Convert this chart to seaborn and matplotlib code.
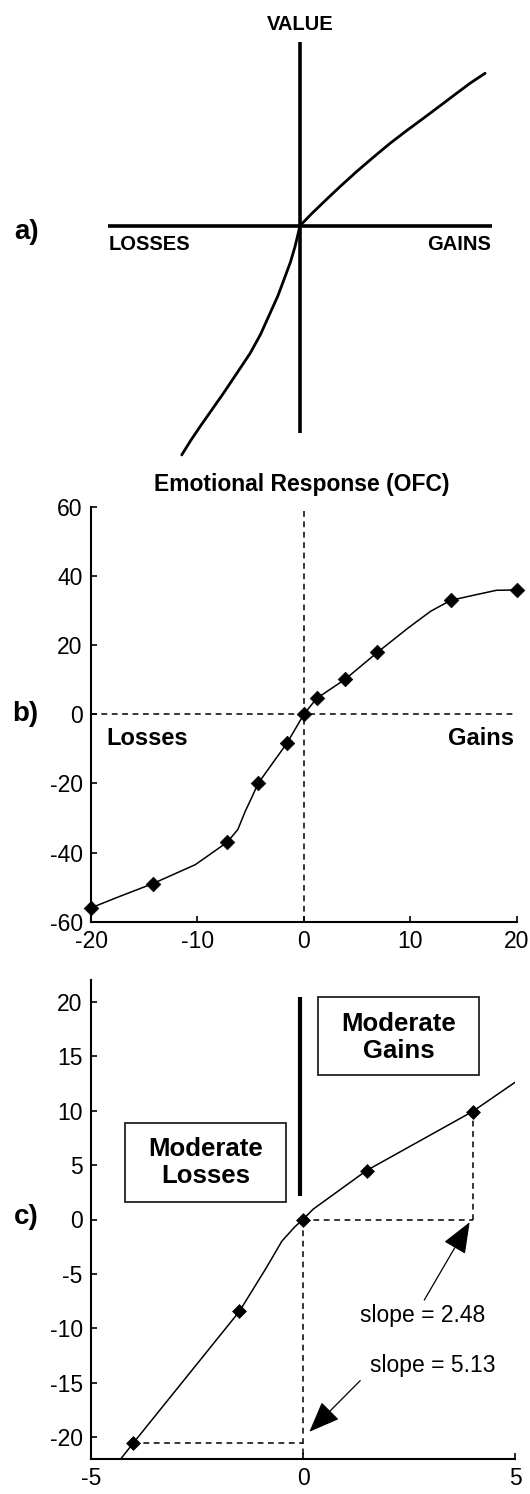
import matplotlib
matplotlib.use("Agg")
import matplotlib.pyplot as plt
from matplotlib.patches import Rectangle
import seaborn as sns

# a) prospect theory value function (sketch units, 1 = half the horizontal axis)
a_x = [-0.616, -0.57, -0.521, -0.46, -0.399, -0.33, -0.260, -0.205, -0.156, -0.115,
       -0.078, -0.05, -0.026, 0.0, 0.06, 0.139, 0.21, 0.295, 0.38, 0.469, 0.555,
       0.642, 0.73, 0.816, 0.89, 0.964]
a_y = [-1.194, -1.12, -1.047, -0.96, -0.873, -0.77, -0.665, -0.565, -0.456, -0.365,
       -0.266, -0.19, -0.109, 0.0, 0.062, 0.138, 0.205, 0.282, 0.355, 0.429, 0.495,
       0.559, 0.625, 0.690, 0.745, 0.794]
a_axis_x = [-1.0, 1.0]
a_axis_y = [-1.081, 0.959]

# b) emotional response (OFC): measured points and the drawn curve
b_x = [-20, -14.2, -7.2, -4.3, -1.6, 0, 1.2, 3.9, 6.9, 13.8, 20]
b_y = [-56, -49, -37, -20, -8.4, 0, 4.6, 10.2, 17.9, 33, 36]
b_curve_x = [-20, -17.4, -14.2, -10.2, -7.2, -6.2, -5.5, -4.9, -4.3, -3.0, -1.6,
             0, 1.2, 3.9, 6.9, 9.8, 11.9, 13.8, 16.3, 18.1, 20]
b_curve_y = [-56, -52.8, -49, -43.5, -37, -33.3, -28, -24.1, -20, -14.4, -8.4,
             0, 4.6, 10.2, 17.9, 25, 29.8, 33, 34.7, 35.9, 36]

# c) moderate losses / gains
c_x = [-4, -1.5, 0, 1.5, 4]
c_y = [-20.52, -8.44, 0, 4.5, 9.92]
c_curve_x = [-4.3, -4, -1.5, -0.86, -0.5, -0.2, 0, 0.24, 1.5, 4, 5.0]
c_curve_y = [-22, -20.52, -8.44, -4.4, -2.0, -0.7, 0, 0.95, 4.5, 9.92, 12.6]
slope_labels = ["slope = 2.48", "slope = 5.13"]

W, H = 530, 1494

sns.set_style("ticks")
plt.rcParams["font.family"] = ["Liberation Sans", "DejaVu Sans"]
plt.rcParams["axes.unicode_minus"] = False
plt.rcParams["text.color"] = "black"
plt.rcParams["xtick.color"] = "black"
plt.rcParams["ytick.color"] = "black"

fig = plt.figure(figsize=(W / 100, H / 100), dpi=100)


def place(left, top, right, bottom):
    # axes box given in pixels of the 530x1494 canvas
    return fig.add_axes([left / W, 1 - bottom / H, (right - left) / W, (bottom - top) / H])


def fx(px):
    return px / W


def fy(py):
    return 1 - py / H


dash = (0, (3.8, 3))

# ---------------- a) ----------------
ax_a = place(108, 41.6, 492, 465.7)
ax_a.set_xlim(-1, 1)
ax_a.set_ylim(-1.25, 0.959)
ax_a.axis("off")
ax_a.plot(a_axis_x, [0, 0], color="black", lw=2.6, solid_capstyle="butt")
ax_a.plot([0, 0], a_axis_y, color="black", lw=2.6, solid_capstyle="butt")
sns.lineplot(x=a_x, y=a_y, ax=ax_a, color="black", lw=2.0, sort=False, estimator=None)
fig.text(fx(300), fy(25), "VALUE", ha="center", va="center", fontsize=14.5, fontweight="bold")
fig.text(fx(109), fy(244), "LOSSES", ha="left", va="center", fontsize=14.5, fontweight="bold")
fig.text(fx(491), fy(244), "GAINS", ha="right", va="center", fontsize=14.5, fontweight="bold")
fig.text(fx(14), fy(232), "a)", ha="left", va="center", fontsize=20, fontweight="bold")

# ---------------- b) ----------------
ax_b = place(91, 507, 516.7, 921.7)
ax_b.axhline(0, color="black", lw=1.1, ls=dash)
ax_b.axvline(0, color="black", lw=1.1, ls=dash)
sns.lineplot(x=b_curve_x, y=b_curve_y, ax=ax_b, color="black", lw=1.1, sort=False, estimator=None)
sns.scatterplot(x=b_x, y=b_y, ax=ax_b, marker="D", s=55, color="black",
                edgecolor="black", linewidth=0.5, clip_on=False, zorder=5)
ax_b.set_xlim(-20, 20)
ax_b.set_ylim(-60, 60)
ax_b.set_xticks([-20, -10, 0, 10, 20])
ax_b.set_yticks([-60, -40, -20, 0, 20, 40, 60])
ax_b.text(-18.6, -6.9, "Losses", ha="left", va="center", fontsize=17, fontweight="bold")
ax_b.text(19.75, -6.9, "Gains", ha="right", va="center", fontsize=17, fontweight="bold")
fig.text(fx(302), fy(484.5), "Emotional Response (OFC)", ha="center", va="center",
         fontsize=16.5, fontweight="bold")
fig.text(fx(12), fy(714), "b)", ha="left", va="center", fontsize=20, fontweight="bold")

# ---------------- c) ----------------
ax_c = place(91, 980, 515, 1459)
ax_c.set_xlim(-5, 5)
ax_c.set_ylim(-22, 22)
gx, gy = c_x[-1], c_y[-1]
lx, ly = c_x[0], c_y[0]
ax_c.plot([0, gx], [0, 0], color="black", lw=1.1, ls=dash)
ax_c.plot([gx, gx], [0, gy], color="black", lw=1.1, ls=dash)
ax_c.plot([0, 0], [0, -22], color="black", lw=1.1, ls=dash)
ax_c.plot([lx, 0], [ly, ly], color="black", lw=1.1, ls=dash)
sns.lineplot(x=c_curve_x, y=c_curve_y, ax=ax_c, color="black", lw=1.1, sort=False, estimator=None)
sns.scatterplot(x=c_x, y=c_y, ax=ax_c, marker="D", s=50, color="black",
                edgecolor="black", linewidth=0.5, clip_on=False, zorder=5)
ax_c.set_xticks([-5, 0, 5])
ax_c.set_yticks([-20, -15, -10, -5, 0, 5, 10, 15, 20])

# divider bar and the two boxed labels
ax_c.plot([-0.08, -0.08], [2.2, 20.4], color="black", lw=3.0, solid_capstyle="butt")
ax_c.add_patch(Rectangle((0.36, 13.3), 3.8, 7.1, fill=False, edgecolor="#222222", lw=1.3))
ax_c.add_patch(Rectangle((-4.2, 1.6), 3.8, 7.3, fill=False, edgecolor="#222222", lw=1.3))
ax_c.text(2.26, 16.75, "Moderate\nGains", ha="center", va="center", fontsize=18.5,
          fontweight="bold", linespacing=1.15)
ax_c.text(-2.3, 5.2, "Moderate\nLosses", ha="center", va="center", fontsize=18.5,
          fontweight="bold", linespacing=1.15)

# slope annotations
arrow = dict(arrowstyle="-|>,head_length=0.65,head_width=0.26", mutation_scale=30,
             color="black", lw=0.9, shrinkA=0, shrinkB=0)
ax_c.annotate("", xy=(3.93, -0.25), xytext=(2.86, -7.4), arrowprops=arrow)
ax_c.annotate("", xy=(0.15, -19.5), xytext=(1.35, -14.8), arrowprops=arrow)
ax_c.text(2.82, -8.8, slope_labels[0], ha="center", va="center", fontsize=16.5)
ax_c.text(3.06, -13.45, slope_labels[1], ha="center", va="center", fontsize=16.5)
fig.text(fx(14), fy(1217), "c)", ha="left", va="center", fontsize=20, fontweight="bold")

for ax in (ax_b, ax_c):
    sns.despine(ax=ax)
    for side in ("left", "bottom"):
        ax.spines[side].set_linewidth(1.5)
        ax.spines[side].set_color("black")
    ax.tick_params(direction="in", length=4, width=1.2, labelsize=16.5, pad=6, colors="black")
    ax.set_facecolor("none")

fig.savefig("out.png", dpi=100, facecolor="white")
